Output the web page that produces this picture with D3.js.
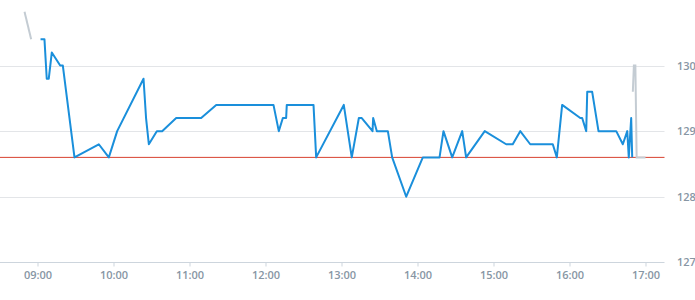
<!DOCTYPE html>
<html>
<head>
<meta charset="utf-8">
<script src="https://cdn.jsdelivr.net/npm/d3@7"></script>
<style>
  html, body { margin: 0; padding: 0; background: #fff; }
  svg { display: block; }
  .tick text { font-family: "Open Sans", sans-serif; font-weight: 600; font-size: 11px; fill: #8796a4; }
</style>
</head>
<body>
<svg id="chart" width="695" height="300"></svg>
<script>
// ---- data ----
const blueTimes = ["09:02:24","09:05:30","09:07:18","09:08:54","09:11:18","09:17:54","09:20:00","09:29:12",
  "09:48:24","09:56:18","10:02:54","10:23:42","10:25:42","10:27:54","10:34:12","10:38:24","10:49:30",
  "11:09:12","11:21:06","12:06:18","12:10:30","12:13:42","12:16:18","12:16:48","12:37:54","12:40:00",
  "13:01:48","13:08:06","13:13:42","13:16:00","13:24:30","13:25:00","13:27:54","13:36:36","13:40:00",
  "13:51:06","14:04:12","14:17:24","14:20:30","14:27:24","14:35:18","14:38:24","14:53:06","15:10:00",
  "15:15:12","15:21:06","15:29:00","15:46:48","15:50:00","15:54:12","16:08:30","16:10:00","16:13:12",
  "16:14:00","16:17:54","16:22:54","16:36:54","16:42:06","16:45:36","16:46:48","16:48:42","16:49:30"];
const blueValues = [130.4,130.4,129.8,129.8,130.2,130.0,130.0,128.6,
  128.8,128.6,129.0,129.8,129.2,128.8,129.0,129.0,129.2,
  129.2,129.4,129.4,129.0,129.2,129.2,129.4,129.4,128.6,
  129.4,128.6,129.2,129.2,129.0,129.2,129.0,129.0,128.6,
  128.0,128.6,128.6,129.0,128.6,129.0,128.6,129.0,128.8,
  128.8,129.0,128.8,128.8,128.6,129.4,129.2,129.2,129.0,
  129.6,129.6,129.0,129.0,128.8,129.0,128.6,129.2,128.6];
const preTimes = ["08:49:45","08:55:00"];
const preValues = [130.82,130.4];
const postTimes = ["16:50:00","16:50:50","16:52:00","16:53:00","17:00:00"];
const postValues = [129.6,130.0,130.0,128.6,128.6];
const prevClose = 128.6;
const timeDomain = ["08:30:00","17:15:00"];
const xTickLabels = ["09:00","10:00","11:00","12:00","13:00","14:00","15:00","16:00","17:00"];
const yTickValues = [127,128,129,130];

// ---- chart ----
const parse = d3.timeParse("%H:%M:%S");
const svg = d3.select("#chart");
const plotRight = 664.5;

const x = d3.scaleTime().domain(timeDomain.map(parse)).range([-0.5, plotRight]);
const y = d3.scaleLinear().domain([127, 131]).range([262.3, 0]);

// gridlines
svg.append("g").selectAll("line").data(yTickValues.filter(v => v !== 127)).join("line")
  .attr("x1", 0).attr("x2", plotRight)
  .attr("y1", d => Math.round(y(d)) + 0.5).attr("y2", d => Math.round(y(d)) + 0.5)
  .attr("stroke", "#e3e5e8").attr("stroke-width", 1);

// y axis labels (right)
const yAxis = d3.axisRight(y).tickValues(yTickValues).tickSize(0).tickPadding(0).tickFormat(d3.format("d"));
const yg = svg.append("g").attr("transform", `translate(677,0)`).call(yAxis);
yg.select(".domain").remove();

// x axis
const xTicks = xTickLabels.map(s => parse(s + ":00"));
const xAxis = d3.axisBottom(x).tickValues(xTicks).tickSize(4).tickPadding(5).tickFormat(d3.timeFormat("%H:%M"));
const xg = svg.append("g").attr("transform", `translate(0,${Math.round(y(127)) + 0.5})`).call(xAxis);
xg.select(".domain").attr("d", `M0,0H${plotRight}`).attr("stroke", "#cdd5dd");
xg.selectAll(".tick line").attr("stroke", "#cdd5dd");

// previous close
svg.append("line")
  .attr("x1", 0).attr("x2", plotRight)
  .attr("y1", y(prevClose)).attr("y2", y(prevClose))
  .attr("stroke", "#d8412f").attr("stroke-width", 1);

const line = d3.line().x(d => x(d[0])).y(d => y(d[1]));
const mk = (ts, vs) => ts.map((t, i) => [parse(t), vs[i]]);

svg.append("path").datum(mk(preTimes, preValues)).attr("d", line)
  .attr("fill", "none").attr("stroke", "#c4ccd3").attr("stroke-width", 2);
svg.append("path").datum(mk(postTimes, postValues)).attr("d", line)
  .attr("fill", "none").attr("stroke", "#c4ccd3").attr("stroke-width", 2);
svg.append("path").datum(mk(blueTimes, blueValues)).attr("d", line)
  .attr("fill", "none").attr("stroke", "#1a8fdb").attr("stroke-width", 2)
  .attr("stroke-linejoin", "round");
</script>
</body>
</html>
